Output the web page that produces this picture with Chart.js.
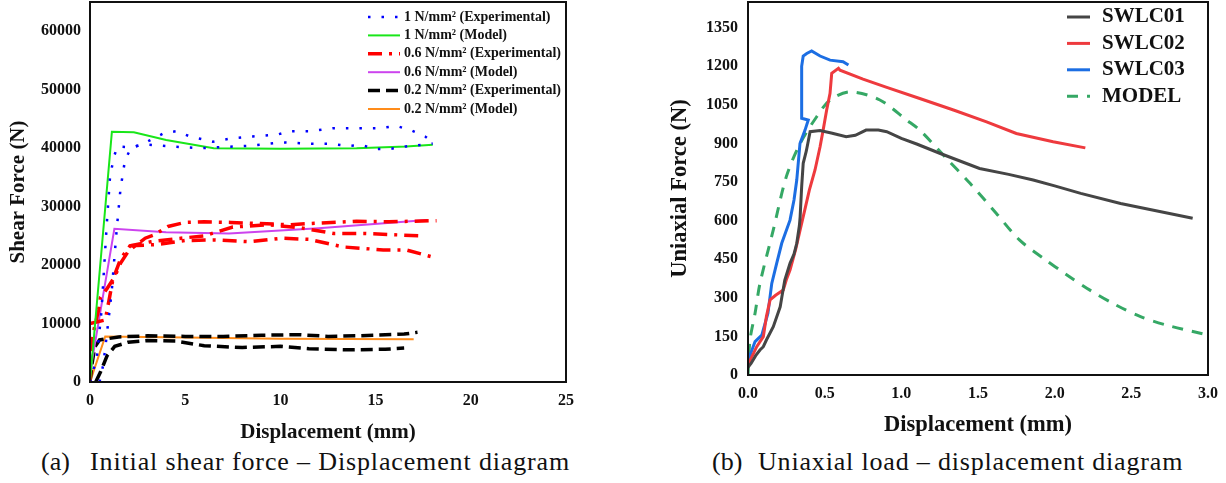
<!DOCTYPE html>
<html>
<head>
<meta charset="utf-8">
<script src="https://cdn.jsdelivr.net/npm/chart.js@4.4.1/dist/chart.umd.min.js"></script>
<style>
  body { margin: 0; background: #fff; width: 1226px; height: 483px; overflow: hidden; position: relative; }
  .box { position: absolute; top: 0; }
  .cap { position: absolute; top: 449px; font-family: "Liberation Serif", serif; font-size: 26px; line-height: 26px; color: #111; white-space: nowrap; }
</style>
</head>
<body>
<div class="box" style="left:0px"><canvas id="shearChart" width="600" height="445"></canvas></div>
<div class="box" style="left:620px"><canvas id="forceChart" width="606" height="445"></canvas></div>
<div class="cap" style="left:41px">(a)</div>
<div class="cap fit" data-w="480" style="left:90px">Initial shear force – Displacement diagram</div>
<div class="cap" style="left:712px">(b)</div>
<div class="cap fit" data-w="425" style="left:758px">Uniaxial load – displacement diagram</div>

<script>
// ---- (a) shear force vs displacement ----
const shearXTicks = [0, 5, 10, 15, 20, 25];
const shearYTicks = [0, 10000, 20000, 30000, 40000, 50000, 60000];

const exp1A = [[0,0],[0.35,4000],[0.6,12000],[0.75,20000],[0.88,27000],[1.05,35000],[1.25,38500],[1.45,40300],[2.27,40100],[3,41100],[3.9,42600],[4.55,42900],[5.25,42000],[6.45,41100],[7.5,41700],[8.55,42000],[9.8,42300],[10.5,42900],[11.55,42900],[12.75,43400],[13.7,43400],[14.6,43400],[15.2,43400],[16.1,43800],[16.9,43000],[17.6,42000],[17.8,41500]];
const exp1B = [[0.5,0],[0.7,3000],[0.95,10000],[1.14,15500],[1.3,22000],[1.4,26000],[1.6,33000],[1.84,38000],[2.2,40300],[3,40600],[4.2,40300],[5.8,40000],[7,40200],[8.4,40400],[10.1,41000],[11.7,40750],[12.6,40750],[13.5,40400],[14.3,40500],[15,39850],[15.8,39900],[16.6,40300],[17.5,40600],[18,40800]];
const model1 = [[0,0],[1.15,42800],[2.3,42700],[4,41400],[6.5,40000],[10,39900],[14,40000],[16.6,40300],[18,40600]];

const exp06A = [[0,0],[0.1,6500],[0.2,8800],[0.45,12300],[0.55,14500],[0.9,16000],[1.3,18000],[1.6,20300],[2,22300],[2.3,23100],[2.9,24600],[3.4,25200],[4.1,26600],[5,27300],[6,27400],[7.4,27300],[8.9,27100],[10.5,26900],[11.5,27100],[14,27500],[15.7,27400],[18.2,27600]];
const exp06B = [[0,10000],[0.4,10300],[0.8,10600],[1,14000],[1.2,17500],[1.6,21000],[2.1,23300],[3.2,24000],[4.5,24500],[6,25000],[7.5,26500],[9.3,26900],[11,26400],[12.8,25400],[14.5,25400],[17.3,25000]];
const exp06C = [[2.1,23300],[3.5,23500],[5,24200],[6.5,24300],[8.4,24000],[10.1,24600],[11.5,24400],[13.3,23100],[15.4,22600],[16.6,22600],[18.2,21200]];
const model06 = [[0,0],[0.1,3500],[1.28,26200],[4,25600],[7.3,25400],[12,26300],[17.7,27700]];

const exp02A = [[0,0],[0.1,3000],[0.25,6000],[0.5,7200],[1.5,7700],[3,7900],[5,7800],[7,7800],[9,8000],[11,8100],[12.5,7800],[14,7900],[16.5,8200],[17.2,8500]];
const exp02B = [[0.3,0],[0.55,1700],[0.9,4500],[1.3,6100],[2,6800],[3,7100],[4.5,7000],[6,6200],[8,5900],[10,6100],[11.5,5700],[13.5,5500],[15.5,5600],[16.5,5800]];
const model02 = [[0,0],[0.8,7800],[5,7600],[10,7400],[17,7300]];

// ---- (b) uniaxial force vs displacement ----
const forceXTicks = [0, 0.5, 1.0, 1.5, 2.0, 2.5, 3.0];
const forceYTicks = [0, 150, 300, 450, 600, 750, 900, 1050, 1200, 1350];
const forceLabels = ['SWLC01', 'SWLC02', 'SWLC03', 'MODEL'];

const swlc01 = [[0,30],[0.02,45],[0.05,75],[0.078,97],[0.1,110],[0.12,136],[0.165,188],[0.21,265],[0.22,300],[0.24,369],[0.274,434],[0.3,470],[0.318,512],[0.335,580],[0.34,615],[0.35,732],[0.36,823],[0.38,870],[0.39,900],[0.405,946],[0.47,950],[0.55,940],[0.64,926],[0.7,932],[0.77,952],[0.85,952],[0.905,946],[1,920],[1.1,898],[1.25,862],[1.51,803],[1.7,780],[1.86,758],[2,735],[2.17,706],[2.43,667],[2.9,609]];
const swlc02 = [[0,40],[0.057,110],[0.1,149],[0.12,227],[0.144,292],[0.18,310],[0.23,330],[0.25,370],[0.274,408],[0.31,486],[0.34,564],[0.37,641],[0.4,719],[0.437,797],[0.47,887],[0.49,952],[0.513,1030],[0.535,1095],[0.546,1173],[0.59,1192],[0.6,1185],[0.75,1150],[0.905,1118],[1.12,1075],[1.34,1030],[1.556,984],[1.75,939],[1.99,907],[2.2,883]];
const swlc03 = [[0,55],[0.046,130],[0.09,155],[0.13,240],[0.155,356],[0.187,434],[0.22,512],[0.274,602],[0.3,680],[0.318,758],[0.339,900],[0.372,952],[0.393,991],[0.35,998],[0.35,1050],[0.35,1200],[0.36,1240],[0.383,1250],[0.415,1260],[0.47,1240],[0.535,1224],[0.62,1218],[0.655,1205]];
const modelForce = [[0,0],[0.013,136],[0.046,240],[0.078,356],[0.165,564],[0.25,771],[0.34,900],[0.448,1004],[0.535,1069],[0.665,1101],[0.86,1069],[1.035,991],[1.12,952],[1.285,848],[1.448,745],[1.62,628],[1.77,525],[1.926,454],[2.08,389],[2.23,330],[2.4,272],[2.56,227],[2.73,194],[2.95,162],[3,155]];

const serif = '"Liberation Serif", "Times New Roman", serif';
const ink = '#111';

// stretch captions to the width they have in the figure
document.querySelectorAll('.fit').forEach(el => {
    const w = el.getBoundingClientRect().width;
    const n = el.textContent.length;
    el.style.letterSpacing = ((+el.dataset.w - w) / n).toFixed(2) + 'px';
});

function pts(arr) {
    return arr.map(p => ({ x: p[0], y: p[1] }));
}

function line(label, data, color, width, dash, tension) {
    return {
        label: label,
        data: pts(data),
        borderColor: color,
        backgroundColor: color,
        borderWidth: width,
        borderDash: dash || [],
        borderCapStyle: 'butt',
        pointRadius: 0,
        tension: tension || 0,
        fill: false
    };
}

// frame round the plot area + legend drawn inside it
const frameLegend = {
    id: 'frameLegend',
    afterDraw(chart, args, opts) {
        const { ctx, chartArea } = chart;
        ctx.save();
        ctx.strokeStyle = ink;
        ctx.lineWidth = 2;
        ctx.strokeRect(chartArea.left, chartArea.top, chartArea.right - chartArea.left, chartArea.bottom - chartArea.top);

        ctx.font = opts.font;
        ctx.textBaseline = 'middle';
        ctx.textAlign = 'left';
        let y = chartArea.top + opts.top;
        const x = chartArea.right - opts.right;
        chart.data.datasets.forEach(ds => {
            if (!ds.label) return;
            ctx.beginPath();
            ctx.setLineDash(ds.borderDash);
            ctx.lineCap = 'butt';
            ctx.strokeStyle = ds.borderColor;
            ctx.lineWidth = ds.borderWidth;
            ctx.moveTo(x, y);
            ctx.lineTo(x + opts.sample, y);
            ctx.stroke();
            ctx.setLineDash([]);
            ctx.fillStyle = ink;
            ctx.fillText(ds.label, x + opts.sample + opts.gap, y);
            y += opts.step;
        });
        ctx.restore();
    }
};

function axis(min, max, ticks, fmt, title, size, tickPad, titleSize, titlePad) {
    return {
        type: 'linear',
        min: min,
        max: max,
        grid: { display: false, drawTicks: false },
        border: { display: false },
        afterBuildTicks: s => { s.ticks = ticks.map(v => ({ value: v })); },
        afterFit: s => {
            // fixed box size, no extra room for end labels
            if (s.isHorizontal()) { s.height = size; } else { s.width = size; }
            s.paddingTop = 0; s.paddingBottom = 0; s.paddingLeft = 0; s.paddingRight = 0;
        },
        ticks: {
            font: { family: serif, size: 16, weight: 'bold' },
            color: ink,
            padding: tickPad,
            maxRotation: 0,
            autoSkip: false,
            callback: fmt
        },
        title: {
            display: true,
            text: title,
            color: ink,
            font: { family: serif, size: titleSize, weight: 'bold' },
            padding: titlePad
        }
    };
}

new Chart(document.getElementById('shearChart').getContext('2d'), {
    type: 'line',
    data: {
        datasets: [
            line('1 N/mm² (Experimental)', exp1A, '#0000ff', 2.5, [2.5, 11]),
            line('', exp1B, '#0000ff', 2.5, [2.5, 11]),
            line('1 N/mm² (Model)', model1, '#19e619', 2),
            line('0.6 N/mm² (Experimental)', exp06A, '#ff0000', 3.5, [14, 7, 3, 7]),
            line('', exp06B, '#ff0000', 3.5, [14, 7, 3, 7]),
            line('', exp06C, '#ff0000', 3.5, [14, 7, 3, 7]),
            line('0.6 N/mm² (Model)', model06, '#cc44ee', 2),
            line('0.2 N/mm² (Experimental)', exp02A, '#000000', 3.5, [12, 6]),
            line('', exp02B, '#000000', 3.5, [12, 6]),
            line('0.2 N/mm² (Model)', model02, '#ff8c1a', 2)
        ]
    },
    options: {
        responsive: false,
        animation: false,
        layout: { padding: { left: 0, right: 34, top: 2, bottom: 0 } },
        plugins: {
            legend: { display: false },
            tooltip: { enabled: false },
            frameLegend: { font: 'bold 14px ' + serif, top: 15, right: 198, sample: 32, gap: 4, step: 18.4 }
        },
        scales: {
            x: axis(0, 25, shearXTicks, v => v, 'Displacement (mm)', 63, 9, 21, { top: 0, bottom: 0 }),
            y: axis(0, 65000, shearYTicks, v => v, 'Shear Force (N)', 90, 9, 21, { top: 6, bottom: 0 })
        }
    },
    plugins: [frameLegend]
});

const forceColors = ['#454545', '#ee3a3e', '#1c6ee3', '#35a865'];

new Chart(document.getElementById('forceChart').getContext('2d'), {
    type: 'line',
    data: {
        datasets: [
            line(forceLabels[0], swlc01, forceColors[0], 3),
            line(forceLabels[1], swlc02, forceColors[1], 3),
            line(forceLabels[2], swlc03, forceColors[2], 3),
            line(forceLabels[3], modelForce, forceColors[3], 3, [11, 9], 0.3)
        ]
    },
    options: {
        responsive: false,
        animation: false,
        layout: { padding: { left: 46, right: 18, top: 2, bottom: 0 } },
        plugins: {
            legend: { display: false },
            tooltip: { enabled: false },
            frameLegend: { font: 'bold 21px ' + serif, top: 15, right: 141, sample: 23, gap: 12, step: 26.4 }
        },
        scales: {
            x: axis(0, 3, forceXTicks, v => v.toFixed(1), 'Displacement (mm)', 70, 9, 22.5, { top: 0, bottom: 6 }),
            y: axis(0, 1450, forceYTicks, v => v, 'Uniaxial Force (N)', 82, 10, 22.5, { top: 1, bottom: 0 })
        }
    },
    plugins: [frameLegend]
});
</script>
</body>
</html>
